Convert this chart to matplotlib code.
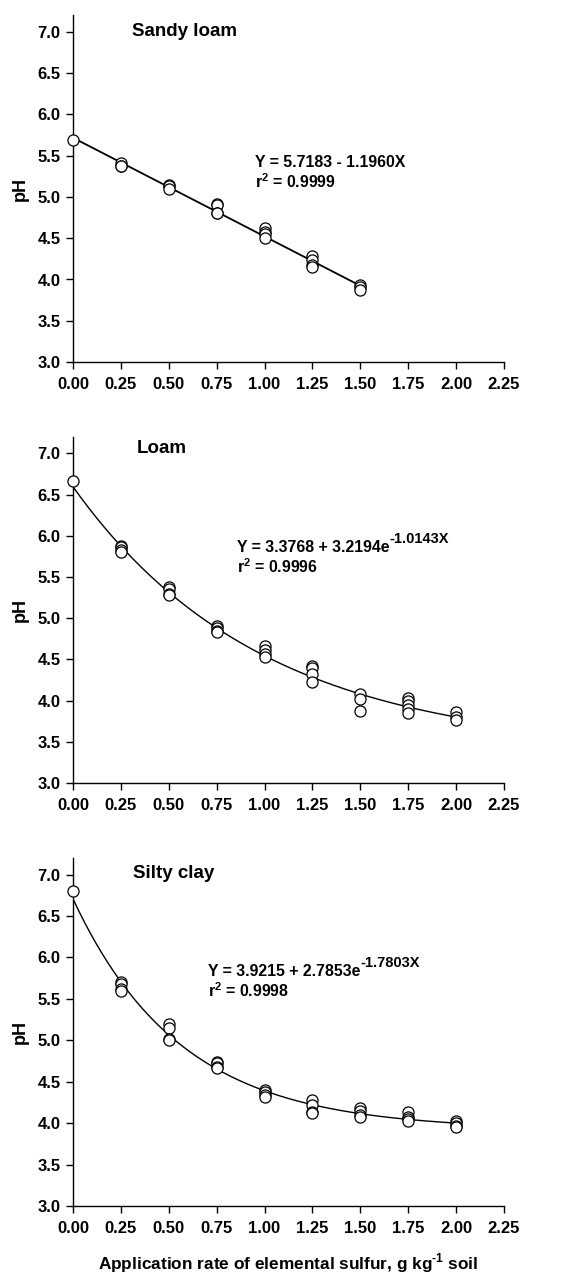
import matplotlib
matplotlib.use('Agg')
import matplotlib.pyplot as plt
import numpy as np

plt.rcParams['font.family'] = ['Liberation Sans', 'DejaVu Sans']
plt.rcParams['font.weight'] = 'bold'
plt.rcParams['mathtext.fontset'] = 'custom'
plt.rcParams['mathtext.rm'] = 'Liberation Sans:bold'
plt.rcParams['mathtext.bf'] = 'Liberation Sans:bold'

# sandy loam replicates
sandy_x = [0, 0.25, 0.25, 0.25, 0.5, 0.5, 0.5, 0.75, 0.75, 0.75, 0.75,
           1.0, 1.0, 1.0, 1.0, 1.25, 1.25, 1.25, 1.25, 1.5, 1.5, 1.5]
sandy_ph = [5.69, 5.41, 5.38, 5.37, 5.15, 5.13, 5.10, 4.92, 4.90, 4.81, 4.80,
            4.62, 4.58, 4.55, 4.50, 4.28, 4.24, 4.18, 4.15, 3.93, 3.91, 3.87]

# loam replicates
loam_x = [0, 0.25, 0.25, 0.25, 0.25, 0.5, 0.5, 0.5, 0.5, 0.75, 0.75, 0.75, 0.75,
          1.0, 1.0, 1.0, 1.0, 1.25, 1.25, 1.25, 1.25, 1.5, 1.5, 1.5,
          1.75, 1.75, 1.75, 1.75, 1.75, 2.0, 2.0, 2.0]
loam_ph = [6.67, 5.88, 5.86, 5.83, 5.80, 5.38, 5.35, 5.30, 5.28, 4.90, 4.88, 4.85, 4.83,
           4.66, 4.62, 4.57, 4.53, 4.42, 4.40, 4.32, 4.23, 4.08, 4.02, 3.87,
           4.03, 4.00, 3.95, 3.90, 3.85, 3.86, 3.80, 3.77]

# silty clay replicates
silty_x = [0, 0.25, 0.25, 0.25, 0.25, 0.5, 0.5, 0.5, 0.5, 0.75, 0.75, 0.75, 0.75,
           1.0, 1.0, 1.0, 1.0, 1.25, 1.25, 1.25, 1.25, 1.5, 1.5, 1.5, 1.5,
           1.75, 1.75, 1.75, 1.75, 2.0, 2.0, 2.0, 2.0]
silty_ph = [6.80, 5.70, 5.68, 5.62, 5.60, 5.20, 5.15, 5.02, 5.00, 4.74, 4.72, 4.68, 4.67,
            4.40, 4.37, 4.34, 4.32, 4.28, 4.22, 4.14, 4.12, 4.18, 4.15, 4.10, 4.08,
            4.14, 4.08, 4.05, 4.03, 4.03, 4.00, 3.97, 3.95]

# fitted model coefficients (from the equations printed on the chart)
sandy_fit = (5.7183, -1.1960)          # Y = a + bX
loam_fit = (3.3768, 3.2194, -1.0143)   # Y = a + b e^(cX)
silty_fit = (3.9215, 2.7853, -1.7803)

xticks = [0.00, 0.25, 0.50, 0.75, 1.00, 1.25, 1.50, 1.75, 2.00, 2.25]
yticks = [3.0, 3.5, 4.0, 4.5, 5.0, 5.5, 6.0, 6.5, 7.0]

fig = plt.figure(figsize=(5.83, 12.78), dpi=100)

W, H = 583.0, 1278.0
left, right = 73, 504
panels = [
    # (y=3.0 px, top px)
    (362, 15.5),
    (783, 437),
    (1206, 858),
]

def style_axes(ax):
    ax.set_xlim(0, 2.25)
    ax.set_ylim(3.0, 7.2)
    for s in ['top', 'right']:
        ax.spines[s].set_visible(False)
    for s in ['left', 'bottom']:
        ax.spines[s].set_linewidth(1.0)
    ax.set_xticks(xticks)
    ax.set_xticklabels(['%.2f' % t for t in xticks])
    ax.set_yticks(yticks)
    ax.set_yticklabels(['%.1f' % t for t in yticks])
    ax.tick_params(direction='out', length=5, width=1, labelsize=12)
    ax.tick_params(axis='x', pad=6)
    ax.tick_params(axis='y', pad=4)
    ax.set_ylabel('pH', fontsize=13, fontweight='bold', labelpad=6)

axes = []
for y3, top in panels:
    ax = fig.add_axes([left / W, 1 - y3 / H, (right - left) / W, (y3 - top) / H])
    style_axes(ax)
    axes.append(ax)

mk = dict(marker='o', ms=8, mfc='white', mec='black', mew=0.9, ls='none',
          zorder=3, clip_on=False)

# sandy loam
ax = axes[0]
xs = np.linspace(0, 1.5, 100)
ax.plot(xs, sandy_fit[0] + sandy_fit[1] * xs, color='black', lw=1.3, zorder=2)
ax.plot(sandy_x, sandy_ph, **mk)
ax.text(0.31, 6.95, 'Sandy loam', fontsize=13.5, fontweight='bold')
ax.text(0.95, 5.36, 'Y = 5.7183 - 1.1960X', fontsize=11.4, fontweight='bold')
ax.text(0.95, 5.11, r'r$^{2}$ = 0.9999', fontsize=11.4, fontweight='bold')

def exp_panel(ax, xd, yd, fit, name, nx, ny, ex, ey1, ey2, r2):
    a, b, c = fit
    xs = np.linspace(0, 2.0, 200)
    ax.plot(xs, a + b * np.exp(c * xs), color='black', lw=1.0, zorder=2)
    ax.plot(xd, yd, **mk)
    ax.text(nx, ny, name, fontsize=13.5, fontweight='bold')
    t = ax.text(ex, ey1, 'Y = %.4f + %.4fe' % (a, b), fontsize=11.4, fontweight='bold')
    ax.annotate('%.4fX' % c, xy=(1, 0.6), xycoords=t, fontsize=10.5,
                fontweight='bold', va='bottom', ha='left')
    ax.text(ex, ey2, r'r$^{2}$ = ' + r2, fontsize=11.4, fontweight='bold')

exp_panel(axes[1], loam_x, loam_ph, loam_fit, 'Loam', 0.334, 7.0, 0.856, 5.81, 5.55, '0.9996')
exp_panel(axes[2], silty_x, silty_ph, silty_fit, 'Silty clay', 0.313, 6.96, 0.705, 5.78, 5.52, '0.9998')

axes[2].set_xlabel(r'Application rate of elemental sulfur, g kg$^{\text{-1}}$ soil',
                   fontsize=12.4, fontweight='bold', labelpad=11)

fig.savefig('out.png', dpi=100)
